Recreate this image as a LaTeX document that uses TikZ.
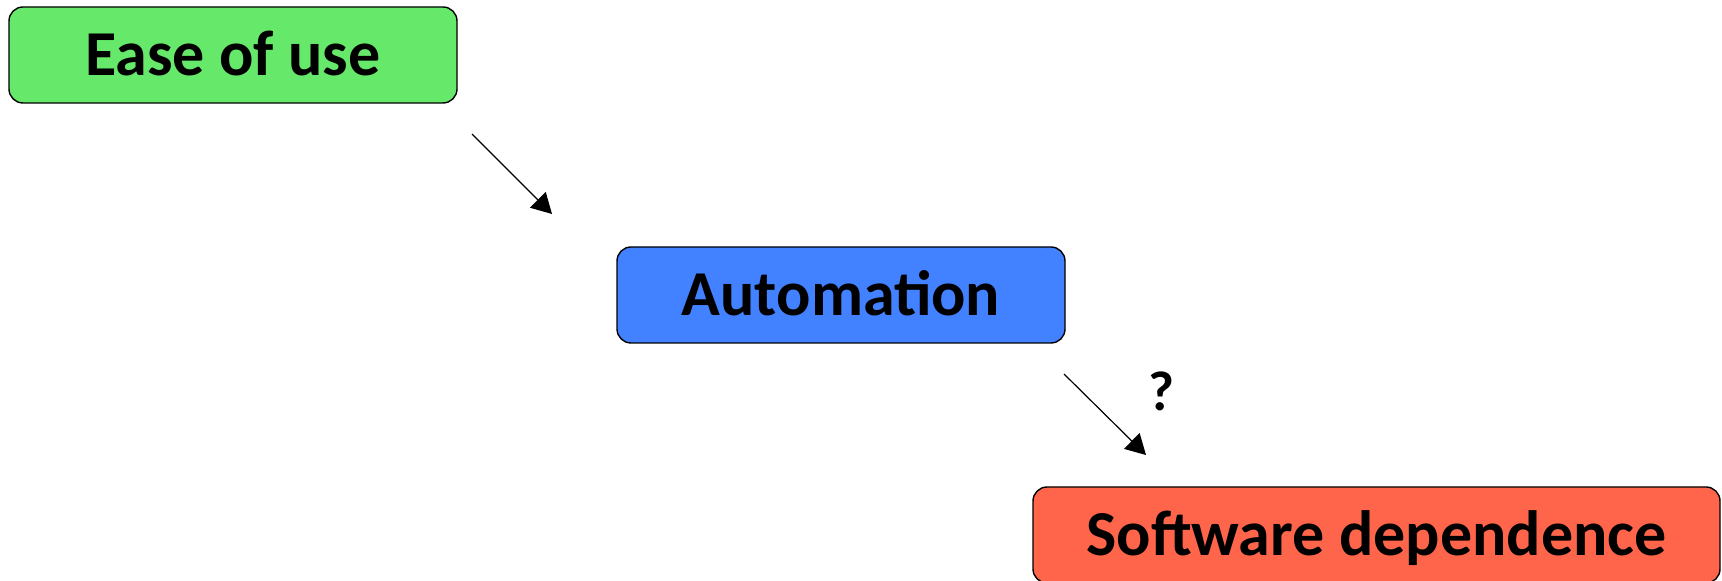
\documentclass[tikz,border=0pt]{standalone}
\usepackage{fontspec}
\setmainfont{Carlito}
\usetikzlibrary{arrows.meta}

\definecolor{easegreen}{RGB}{102,232,106}
\definecolor{autoblue}{RGB}{66,129,255}
\definecolor{softred}{RGB}{255,101,74}

\begin{document}
\begin{tikzpicture}[x=0.5pt, y=-0.5pt,
    box/.style={draw=black, line width=0.7pt, rounded corners=7pt,
        minimum height=48pt, text height=20.5pt, text depth=0pt,
        font=\fontsize{32}{38}\selectfont\bfseries},
    link/.style={line width=0.6pt, -{Triangle[length=10pt,width=11pt]}}]
    \useasboundingbox (0,0) rectangle (1722,581);

    % the three boxes
    \node[box, fill=easegreen, minimum width=224pt] (ease) at (233,55) {Ease of use};
    \node[box, fill=autoblue, minimum width=224pt] (auto) at (841,295) {Automation};
    \node[box, fill=softred, minimum width=343.5pt] (soft) at (1376.5,535) {Software dependence};

    % arrows between them
    \coordinate (e1) at (472,134);
    \coordinate (a1) at (552,214);
    \coordinate (e2) at (1064,374);
    \coordinate (a2) at (1146,455);
    \draw[link] (e1) -- (a1);
    \draw[link] (e2) -- (a2);
    \node[font=\fontsize{28}{32}\selectfont\bfseries] (q) at (1161,391) {?};
\end{tikzpicture}
\end{document}
